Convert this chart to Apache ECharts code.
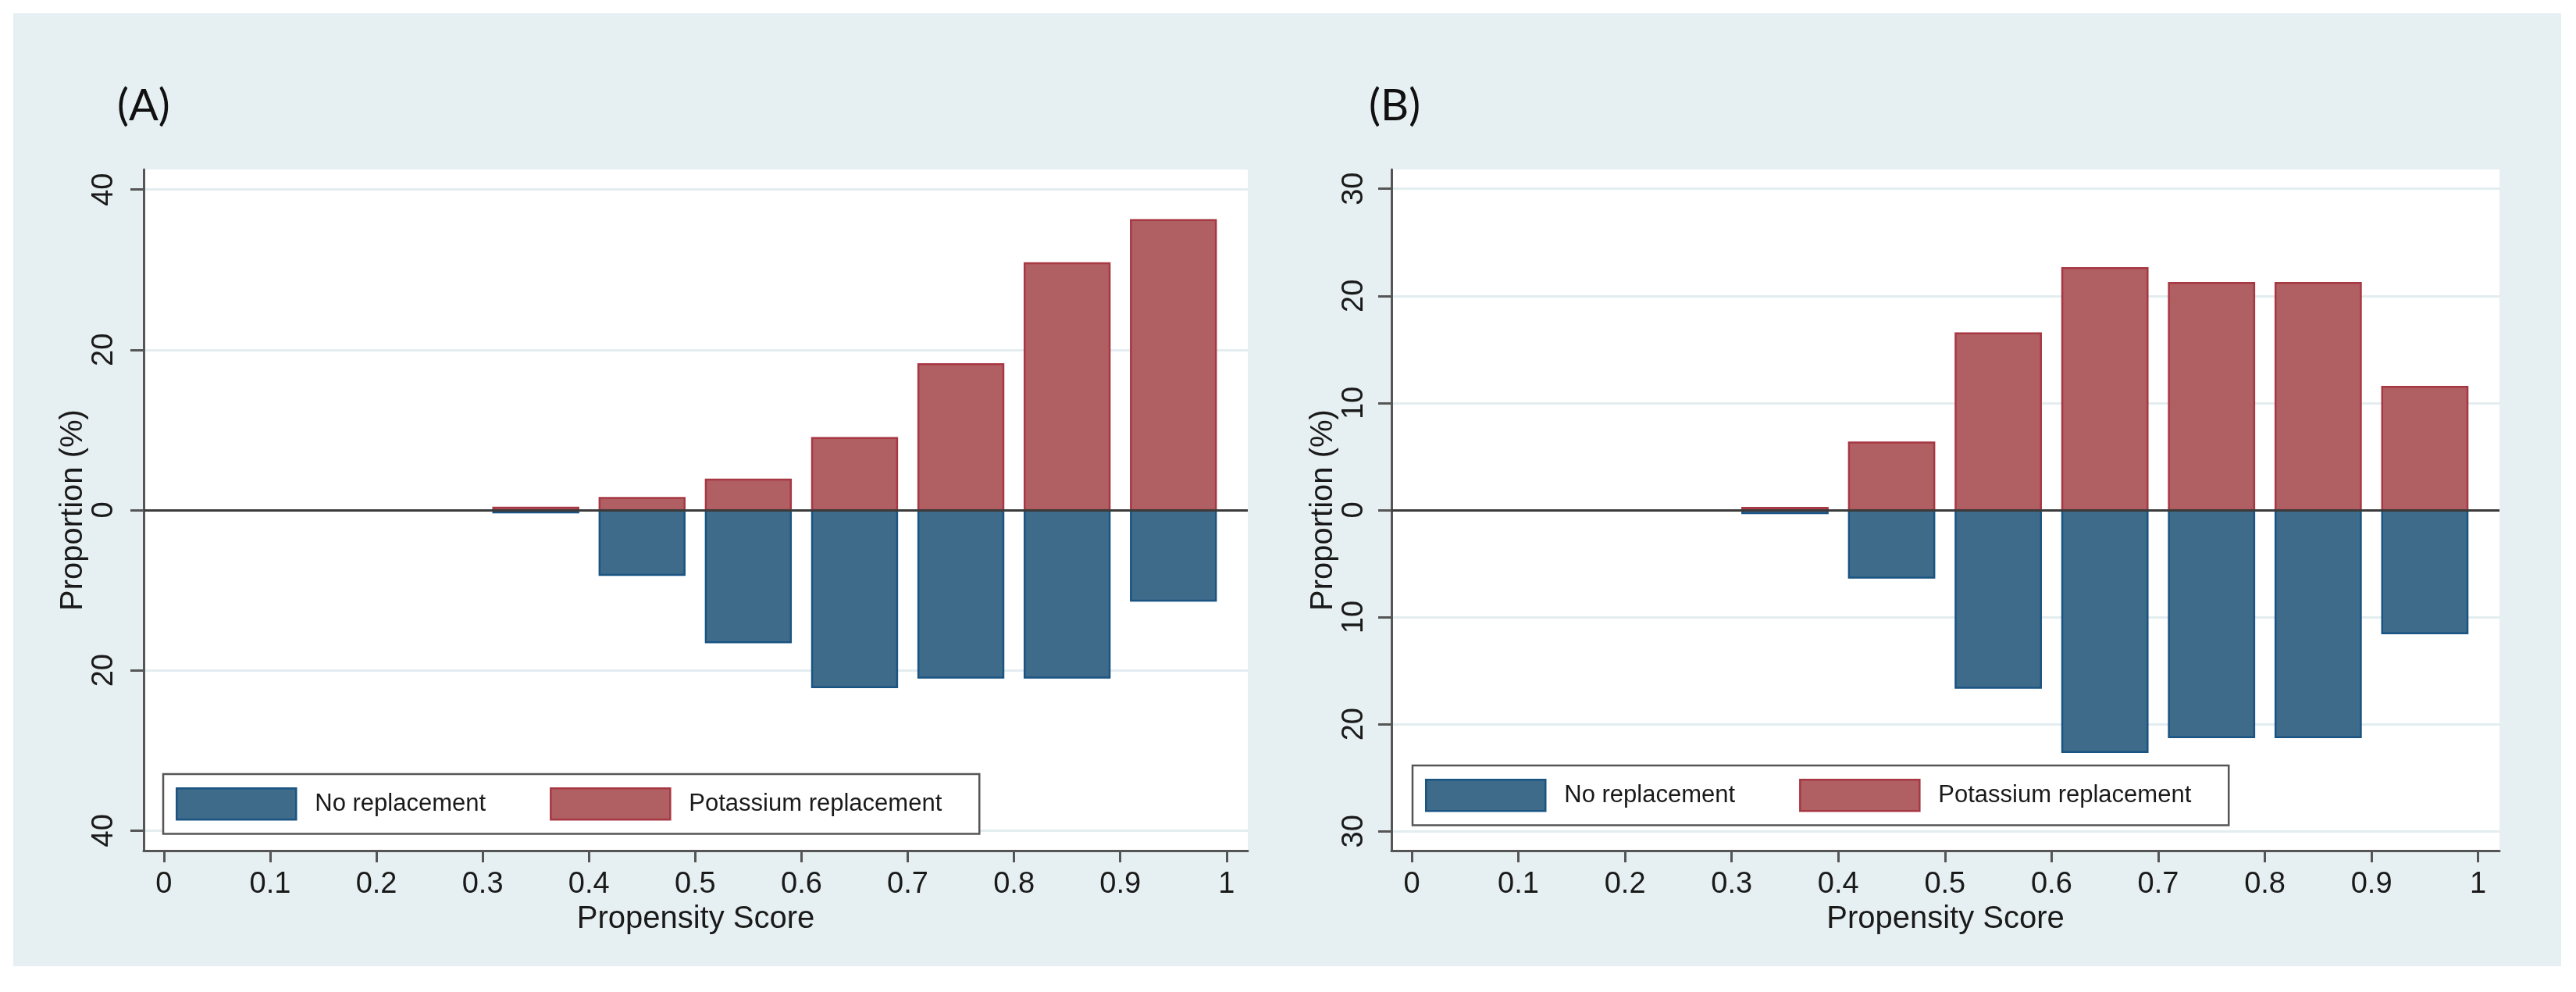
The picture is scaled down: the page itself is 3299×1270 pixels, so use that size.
<!DOCTYPE html>
<html>
<head>
<meta charset="utf-8">
<script src="https://cdn.jsdelivr.net/npm/echarts@6/dist/echarts.min.js"></script>
<style>
html,body{margin:0;padding:0;background:#ffffff;}
#chart{width:3299px;height:1270px;}
</style>
</head>
<body>
<div id="chart"></div>
<script>
// ---- data ----
const binMid = [0.35, 0.45, 0.55, 0.65, 0.75, 0.85, 0.95];
const barWidth = 0.08;
const xTicks = [0, 0.1, 0.2, 0.3, 0.4, 0.5, 0.6, 0.7, 0.8, 0.9, 1];
const yTicksA = [-40, -20, 0, 20, 40];
const yTicksB = [-30, -20, -10, 0, 10, 20, 30];
const potassiumA = [0.3, 1.5, 3.8, 9.0, 18.2, 30.8, 36.2];
const noReplA    = [0.3, 8.1, 16.5, 22.1, 20.9, 20.9, 11.3];
const potassiumB = [0.2, 6.3, 16.5, 22.6, 21.2, 21.2, 11.5];
const noReplB    = [0.3, 6.3, 16.6, 22.6, 21.2, 21.2, 11.5];
const seriesNames = ['No replacement', 'Potassium replacement'];
const panelLabels = ['(A)', '(B)'];
const xTitle = 'Propensity Score';
const yTitle = 'Proportion (%)';

// ---- styles ----
const FONT = 'Liberation Sans';
const BLUE = '#3f6b8b', BLUE_B = '#1a5482';
const RED = '#b05f63', RED_B = '#a73843';
const AXIS = '#555555';
const GRIDC = '#e3edf0';
const TXT = '#1a1a1a';

function renderBar(params, api) {
  const x = api.value(0), y = api.value(1);
  const p0 = api.coord([x - barWidth / 2, y]);
  const p1 = api.coord([x + barWidth / 2, 0]);
  const isNeg = y < 0;
  return {
    type: 'rect',
    shape: {
      x: p0[0],
      y: Math.min(p0[1], p1[1]),
      width: p1[0] - p0[0],
      height: Math.abs(p1[1] - p0[1])
    },
    style: {
      fill: isNeg ? BLUE : RED,
      stroke: isNeg ? BLUE_B : RED_B,
      lineWidth: 2.5
    }
  };
}

function pairs(vals, sign) {
  return binMid.map((m, i) => [m, sign * vals[i]]);
}

function xAxisCfg(idx) {
  return {
    type: 'value', gridIndex: idx, min: -0.019, max: 1.02,
    name: xTitle, nameLocation: 'middle', nameGap: 68,
    nameTextStyle: {fontFamily: FONT, fontSize: 40, color: TXT},
    axisLine: {show: true, onZero: false, lineStyle: {color: AXIS, width: 3}},
    axisTick: {show: true, customValues: xTicks, length: 15, lineStyle: {color: AXIS, width: 3}},
    axisLabel: {customValues: xTicks, margin: 25, fontFamily: FONT, fontSize: 38, color: TXT,
                formatter: v => String(v)},
    splitLine: {show: false}
  };
}

function yAxisCfg(idx, lim, ticks, margin, gap) {
  return {
    type: 'value', gridIndex: idx, min: -lim, max: lim,
    name: yTitle, nameLocation: 'middle', nameGap: gap, nameRotate: 90,
    nameTextStyle: {fontFamily: FONT, fontSize: 40, color: TXT},
    axisLine: {show: true, onZero: false, lineStyle: {color: AXIS, width: 3}},
    axisTick: {show: true, customValues: ticks, length: 17, lineStyle: {color: AXIS, width: 3}},
    axisLabel: {customValues: ticks, rotate: 90, margin: margin, fontFamily: FONT, fontSize: 38, color: TXT,
                formatter: v => String(Math.abs(v))},
    splitLine: {show: true, lineStyle: {color: GRIDC, width: 3}}
  };
}

function barSeries(name, idx, data, color, border, withZero) {
  const s = {
    name: name, type: 'custom', xAxisIndex: idx, yAxisIndex: idx,
    renderItem: renderBar, data: data, clip: true,
    itemStyle: {color: color, borderColor: border, borderWidth: 2.5},
    encode: {x: 0, y: 1}
  };
  if (withZero) {
    s.markLine = {
      silent: true, symbol: ['none', 'none'], label: {show: false},
      lineStyle: {color: '#3a3a3a', width: 3, type: 'solid'},
      data: [{yAxis: 0}], animation: false
    };
  }
  return s;
}

function legendCfg(left, top) {
  return {
    left: left, top: top, orient: 'horizontal',
    backgroundColor: '#ffffff', borderColor: '#555555', borderWidth: 2.5,
    padding: [17, 48, 17, 16],
    itemWidth: 153, itemHeight: 40, itemGap: 82,
    icon: 'rect',
    textStyle: {fontFamily: FONT, fontSize: 31, color: TXT, padding: [0, 0, 0, 19]},
    data: [
      {name: seriesNames[0], itemStyle: {color: BLUE, borderColor: BLUE_B, borderWidth: 2.5}},
      {name: seriesNames[1], itemStyle: {color: RED, borderColor: RED_B, borderWidth: 2.5}}
    ],
    selectedMode: false
  };
}

const chart = echarts.init(document.getElementById('chart'), null, {renderer: 'canvas'});
chart.setOption({
  animation: false,
  backgroundColor: '#ffffff',
  graphic: [{
    type: 'rect', z: -10, silent: true,
    shape: {x: 17, y: 17, width: 3263, height: 1220},
    style: {fill: '#e6eff1'}
  }],
  title: [
    {text: panelLabels[0], left: 150, top: 108, padding: 0,
     textStyle: {fontFamily: 'Lato', fontWeight: 'normal', fontSize: 56, color: '#111'}},
    {text: panelLabels[1], left: 1753, top: 108, padding: 0,
     textStyle: {fontFamily: 'Lato', fontWeight: 'normal', fontSize: 56, color: '#111'}}
  ],
  grid: [
    {left: 184, top: 217, width: 1414, height: 872, show: true, backgroundColor: '#ffffff', borderWidth: 0},
    {left: 1782, top: 217, width: 1419, height: 872, show: true, backgroundColor: '#ffffff', borderWidth: 0}
  ],
  xAxis: [xAxisCfg(0), xAxisCfg(1)],
  yAxis: [yAxisCfg(0, 42.5, yTicksA, 31, 70), yAxisCfg(1, 31.8, yTicksB, 28, 66)],
  legend: [legendCfg(209, 991), legendCfg(1809, 980)],
  series: [
    barSeries(seriesNames[0], 0, pairs(noReplA, -1), BLUE, BLUE_B, false),
    barSeries(seriesNames[1], 0, pairs(potassiumA, 1), RED, RED_B, true),
    barSeries(seriesNames[0], 1, pairs(noReplB, -1), BLUE, BLUE_B, false),
    barSeries(seriesNames[1], 1, pairs(potassiumB, 1), RED, RED_B, true)
  ]
});
</script>
</body>
</html>
